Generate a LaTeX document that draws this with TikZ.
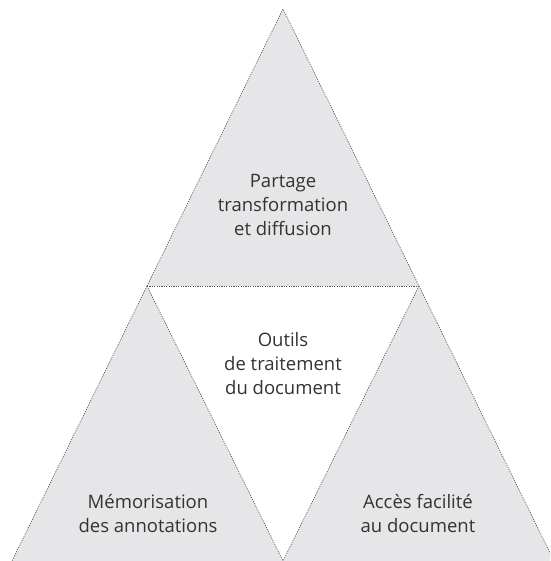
\documentclass[tikz,border=0pt]{standalone}
\usepackage{fontspec}
\setmainfont{Open Sans}
\usepackage{tikz}
\definecolor{pale}{HTML}{E6E6E8}
\definecolor{ink}{HTML}{333333}
\tikzset{
	edge/.style={draw=black!70, line width=0.6pt, dash pattern=on 1.2pt off 1.2pt},
	label/.style={align=center, text=ink, font=\fontsize{18.5}{24}\selectfont}
}

\begin{document}
\begin{tikzpicture}[x=1pt, y=-1pt]
				\useasboundingbox (0,0) rectangle (550,561);
				\clip (0,0) rectangle (550,561);
				
				% corners
				\coordinate (top) at (283,9);
				\coordinate (midL) at (147,286);
				\coordinate (midR) at (419,286);
				\coordinate (botL) at (12,561);
				\coordinate (botM) at (283,561);
				\coordinate (botR) at (554,561);
				
				\fill[pale] (top) -- (midL) -- (midR) -- cycle;
				\fill[pale] (midL) -- (botL) -- (botM) -- cycle;
				\fill[pale] (midR) -- (botM) -- (botR) -- cycle;
				
				\draw[edge] (midL) -- (top) -- (midR);
				\draw[edge] (midL) -- (midR);
				\draw[edge] (midL) -- (botL);
				\draw[edge] (midL) -- (botM);
				\draw[edge] (midR) -- (botM);
				\draw[edge] (midR) -- (botR);
				
				\node[label] (share) at (283,205) {Partage\\transformation\\et diffusion};
				\node[label] (tools) at (283,364) {Outils\\de traitement\\du document};
				\node[label] (memo) at (148,513) {Mémorisation\\des annotations};
				\node[label] (access) at (418,513) {Accès facilité\\au document};
			\end{tikzpicture}
\end{document}
